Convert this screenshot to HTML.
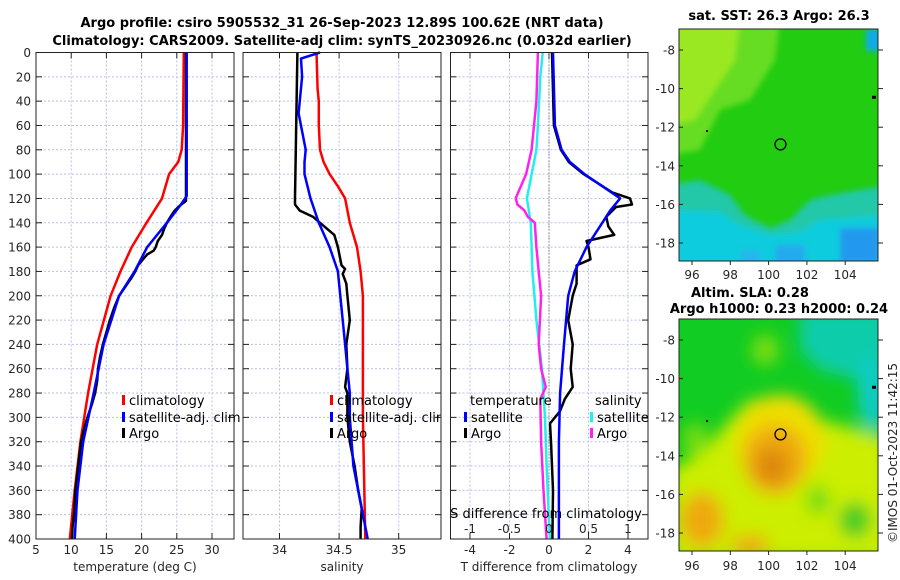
<!DOCTYPE html>
<html><head><meta charset="utf-8"><style>
body{margin:0;background:#fff;}
svg{display:block;font-family:"DejaVu Sans","Liberation Sans",sans-serif;}
.tl{font-size:12px;fill:#262626;}
.ttl{font-size:13px;font-weight:bold;fill:#000;}
.lg{font-size:13px;fill:#000;}
</style></head><body>
<svg id="c" width="900" height="580" viewBox="0 0 900 580">
<defs>
<filter id="bl1" x="-50%" y="-50%" width="200%" height="200%"><feGaussianBlur stdDeviation="8"/></filter>
<filter id="bl2" x="-50%" y="-50%" width="200%" height="200%"><feGaussianBlur stdDeviation="3"/></filter>
<clipPath id="cm1"><rect x="679" y="29" width="199" height="232"/></clipPath>
<clipPath id="cm2"><rect x="679" y="319" width="199" height="232"/></clipPath>
</defs>
<text class="ttl" x="342" y="27" text-anchor="middle">Argo profile: csiro 5905532_31 26-Sep-2023 12.89S 100.62E (NRT data)</text>
<text class="ttl" x="342" y="45" text-anchor="middle">Climatology: CARS2009. Satellite-adj clim: synTS_20230926.nc (0.032d earlier)</text>
<g id="p1"></g>
<g id="p2"></g>
<g id="p3"></g>
<g id="m1">
 <text class="ttl" x="779" y="20" text-anchor="middle">sat. SST: 26.3 Argo: 26.3</text>
 <g clip-path="url(#cm1)">
  <rect x="679" y="29" width="199" height="232" fill="#22cc11"/>
  <g filter="url(#bl2)">
   <polygon points="670,20 780,20 775,60 750,100 720,110 700,150 670,155" fill="#66dd22"/>
   <polygon points="670,20 740,20 735,60 715,90 695,120 670,125" fill="#99e822"/>
   <polygon points="670,185 700,180 730,195 745,215 770,228 790,220 810,200 830,195 860,190 890,185 890,270 670,270" fill="#22c8a8"/>
   <polygon points="670,210 720,212 740,225 770,235 800,232 820,220 850,218 890,215 890,270 670,270" fill="#11ccdd"/>
   <rect x="840" y="228" width="40" height="35" fill="#2299ee"/>
   <rect x="775" y="245" width="30" height="20" fill="#22aaee"/>
   <rect x="740" y="250" width="20" height="15" fill="#22b8ee"/>
   <rect x="866" y="29" width="14" height="22" fill="#11aaee"/>
  </g>
 </g>
 <rect x="679" y="29" width="199" height="232" fill="none" stroke="#222" stroke-width="1"/>
</g>
<g id="m2">
 <text class="ttl" x="691" y="297">Altim. SLA: 0.28</text>
 <text class="ttl" x="779" y="313" text-anchor="middle">Argo h1000: 0.23 h2000: 0.24</text>
 <g clip-path="url(#cm2)">
  <rect x="679" y="319" width="199" height="232" fill="#11cc22"/>
  <g filter="url(#bl1)">
   <polygon points="800,310 890,310 890,430 865,430 860,380 820,370 800,350" fill="#11ccaa"/>
   <ellipse cx="868" cy="390" rx="10" ry="35" fill="#11cccc"/>
   <ellipse cx="765" cy="350" rx="14" ry="16" fill="#77dd11"/>
   <polygon points="670,470 700,455 730,420 750,400 790,395 820,420 860,430 890,440 890,560 670,560" fill="#ccee00"/>
   <ellipse cx="780" cy="440" rx="45" ry="45" fill="#eedd00"/>
   <ellipse cx="775" cy="460" rx="32" ry="35" fill="#eeaa11"/>
   <ellipse cx="772" cy="466" rx="16" ry="18" fill="#dd8811"/>
   <ellipse cx="702" cy="520" rx="22" ry="28" fill="#eeaa11"/>
   <ellipse cx="750" cy="545" rx="20" ry="10" fill="#eeaa11"/>
   <ellipse cx="855" cy="520" rx="16" ry="18" fill="#44cc22"/>
   <ellipse cx="818" cy="500" rx="12" ry="15" fill="#77dd11"/>
   <ellipse cx="695" cy="440" rx="12" ry="18" fill="#77dd11"/>
  </g>
 </g>
 <rect x="679" y="319" width="199" height="232" fill="none" stroke="#222" stroke-width="1"/>
</g>
<text x="0" y="0" font-size="12" fill="#262626" transform="translate(897,543) rotate(-90)">©IMOS 01-Oct-2023 11:42:15</text>
</svg>
<script>
// ---- data ----
const tClimDepth=[0,60,80,90,100,120,140,160,180,200,240,280,320,360,400];
const tClimVal=[26.0,25.9,25.7,25.2,23.9,22.9,20.7,18.6,17.0,15.6,13.7,12.4,11.3,10.5,9.8];
const tSatDepth=[0,118,125,140,160,180,200,240,280,320,360,400];
const tSatVal=[26.4,26.4,25.6,23.6,20.8,19.0,16.8,14.6,13.2,11.7,10.9,10.5];
const tArgoDepth=[0,122,126,130,135,140,145,150,155,160,163,166,170,175,180,185,190,195,200,210,220,230,240,250,260,270,280,290,300,310,320,330,340,350,360,370,380,390,400];
const tArgoVal=[26.3,26.3,25.4,24.7,24.1,23.6,23.2,22.9,22.3,22.0,21.7,20.8,20.2,19.5,19.1,18.6,18.0,17.4,16.8,16.1,15.5,15.0,14.5,14.1,13.8,13.7,13.4,12.9,12.3,11.8,11.4,11.2,11.0,10.8,10.6,10.5,10.4,10.2,10.1];
const sClimDepth=[0,30,40,60,80,90,100,110,120,140,160,180,200,250,300,350,400];
const sClimVal=[34.31,34.32,34.33,34.33,34.34,34.37,34.42,34.49,34.55,34.59,34.65,34.68,34.70,34.70,34.70,34.71,34.72];
const sSatDepth=[0,5,20,50,80,90,100,120,140,160,180,200,220,240,260,280,300,340,370,400];
const sSatVal=[34.34,34.18,34.19,34.16,34.22,34.21,34.21,34.26,34.33,34.42,34.49,34.51,34.53,34.55,34.57,34.59,34.59,34.62,34.68,34.74];
const sArgoDepth=[0,60,120,125,130,135,140,145,150,160,175,178,182,190,200,210,220,240,260,275,280,300,320,340,360,375,390,400];
const sArgoVal=[34.15,34.14,34.13,34.13,34.17,34.28,34.34,34.40,34.46,34.49,34.52,34.55,34.53,34.56,34.57,34.58,34.59,34.56,34.57,34.55,34.57,34.57,34.59,34.63,34.66,34.69,34.68,34.68];
const dTSatDepth=[0,60,80,90,100,120,130,140,160,180,200,240,280,320,400];
const dTSatVal=[0.2,0.3,0.64,1.06,1.8,3.6,3.1,2.7,1.9,1.3,0.97,0.76,0.56,0.5,0.5];
const dTArgoDepth=[0,60,80,90,100,115,120,125,127,135,143,150,155,160,170,175,190,200,220,240,260,275,285,295,305,320,360,400];
const dTArgoVal=[0.15,0.25,0.6,1.0,1.75,3.2,4.1,4.2,3.4,2.9,3.0,3.3,1.9,2.0,2.1,1.4,1.4,1.2,0.97,1.2,1.1,1.2,0.8,0.55,0.05,0.1,0.2,0.17];
const dSSatDepth=[0,20,60,80,120,140,180,220,260,300,340,400];
const dSSatVal=[-0.08,-0.11,-0.14,-0.16,-0.28,-0.23,-0.21,-0.16,-0.09,-0.05,-0.03,0.01];
const dSArgoDepth=[0,40,80,100,115,120,125,130,135,140,160,180,200,240,260,275,285,320,360,400];
const dSArgoVal=[-0.14,-0.16,-0.22,-0.29,-0.39,-0.42,-0.40,-0.31,-0.27,-0.18,-0.16,-0.13,-0.10,-0.13,-0.10,-0.04,-0.11,-0.10,-0.07,-0.03];
const depthTicks=[0,20,40,60,80,100,120,140,160,180,200,220,240,260,280,300,320,340,360,380,400];
const tTicks=[5,10,15,20,25,30];
const sTicks=[34,34.5,35];
const dTTicks=[-4,-2,0,2,4];
const dSTicks=[-1,-0.5,0,0.5,1];
const dSTickLabels=["-1","-0.5","0","0.5","1"];
const latTicks=[-8,-10,-12,-14,-16,-18];
const lonTicks=[96,98,100,102,104];
const argoLon=[100.62], argoLat=[-12.89];

// ---- axes ----
const NS="http://www.w3.org/2000/svg";
const TOP=52.5, BOT=539;
const yD=d=>TOP+(d/400)*(BOT-TOP);
const xT=v=>36+(v-5)*7.04;
const xS=v=>279.5+(v-34)*119.2;
const xDT=v=>549+v*19.75;
const xDS=v=>549+v*79;
const mx=lon=>692+(lon-96)*19.15;
const my1=lat=>50+(-8-lat)*19.3;
const my2=lat=>340+(-8-lat)*19.3;
function el(tag,attrs,parent,txt){const e=document.createElementNS(NS,tag);for(const k in attrs)e.setAttribute(k,attrs[k]);if(txt!==undefined)e.textContent=txt;parent.appendChild(e);return e;}
const panels=[{g:'p1',x0:36,x1:234},{g:'p2',x0:243,x1:441},{g:'p3',x0:450.5,x1:648}];
function frame(p,xticks,xf,labels,ylab){
  const g=document.getElementById(p.g);
  el('rect',{x:p.x0,y:TOP,width:p.x1-p.x0,height:BOT-TOP,fill:'#fff'},g);
  depthTicks.forEach(d=>{const y=yD(d);
    const l=el('line',{x1:p.x0,x2:p.x1,y1:y,y2:y,stroke:'#b8c0e0','stroke-dasharray':'2,2','stroke-width':1},g);
    
    el('line',{x1:p.x0,x2:p.x0+6,y1:y,y2:y,stroke:'#222'},g);
    el('line',{x1:p.x1-6,x2:p.x1,y1:y,y2:y,stroke:'#222'},g);
    if(ylab){const t=el('text',{x:31,y:y+4.5,class:'tl','text-anchor':'end'},g,String(d));
      }
  });
  xticks.forEach((v,i)=>{const x=xf(v);
    const l=el('line',{x1:x,x2:x,y1:TOP,y2:BOT,stroke:'#b8c0e0','stroke-dasharray':'2,2'},g);
    
    el('line',{x1:x,x2:x,y1:BOT,y2:BOT-6,stroke:'#222'},g);
    el('line',{x1:x,x2:x,y1:TOP,y2:TOP+6,stroke:'#222'},g);
    const t=el('text',{x:x,y:554,class:'tl','text-anchor':'middle'},g,labels[i]);
    
  });
  return g;
}
function line(g,depths,vals,xf,color,name,w){
  const pts=depths.map((d,i)=>xf(vals[i]).toFixed(1)+','+yD(d).toFixed(1)).join(' ');
  const p=el('polyline',{points:pts,fill:'none',stroke:color,'stroke-width':w||2.5,'stroke-linejoin':'round'},g);
  
  
}
function legend(g,x,y,color,label,name){
  el('rect',{x:x,y:y-10,width:3,height:10,fill:color},g);
  const t=el('text',{x:x+7,y:y,class:'lg'},g,label);
  
  
}
// panel 1
let g1=frame(panels[0],tTicks,xT,tTicks.map(String),true);
line(g1,tClimDepth,tClimVal,xT,'#ff0000','temp-climatology-line');
line(g1,tArgoDepth,tArgoVal,xT,'#000000','temp-argo-line');
line(g1,tSatDepth,tSatVal,xT,'#0000ff','temp-satellite-line');
el('rect',{x:panels[0].x0,y:TOP,width:198,height:BOT-TOP,fill:'none',stroke:'#222'},g1);
legend(g1,122,405,'#ff0000','climatology','legend-climatology');
legend(g1,122,422,'#0000ff','satellite-adj. clim','legend-satellite');
legend(g1,122,438,'#000000','Argo','legend-argo');
let xl=el('text',{x:135,y:571,class:'tl','font-size':'13','text-anchor':'middle'},g1,'temperature (deg C)');

// panel 2
let g2=frame(panels[1],sTicks,xS,["34","34.5","35"],false);
line(g2,sClimDepth,sClimVal,xS,'#ff0000','sal-climatology-line');
line(g2,sArgoDepth,sArgoVal,xS,'#000000','sal-argo-line');
line(g2,sSatDepth,sSatVal,xS,'#0000ff','sal-satellite-line');
legend(g2,330,405,'#ff0000','climatology','legend-climatology-sal');
legend(g2,330,422,'#0000ff','satellite-adj. clim','legend-satellite-sal');
legend(g2,330,438,'#000000','Argo','legend-argo-sal');
el('rect',{x:441,y:TOP,width:9,height:BOT-TOP,fill:'#fff'},g2);
el('rect',{x:panels[1].x0,y:TOP,width:198,height:BOT-TOP,fill:'none',stroke:'#222'},g2);
xl=el('text',{x:342,y:571,class:'tl','font-size':'13','text-anchor':'middle'},g2,'salinity');

// panel 3
let g3=frame(panels[2],dTTicks,xDT,dTTicks.map(String),false);
el('line',{x1:xDT(0),x2:xDT(0),y1:TOP,y2:BOT,stroke:'#555','stroke-dasharray':'1,2'},g3);
line(g3,dSSatDepth,dSSatVal,xDS,'#22eeee','sdiff-satellite-line');
line(g3,dSArgoDepth,dSArgoVal,xDS,'#ff22ee','sdiff-argo-line');
line(g3,dTArgoDepth,dTArgoVal,xDT,'#000000','tdiff-argo-line');
line(g3,dTSatDepth,dTSatVal,xDT,'#0000ff','tdiff-satellite-line');
el('rect',{x:panels[2].x0,y:TOP,width:197.5,height:BOT-TOP,fill:'none',stroke:'#222'},g3);
let tt=el('text',{x:470,y:405,class:'lg'},g3,'temperature');
tt=el('text',{x:595,y:405,class:'lg'},g3,'salinity');
legend(g3,464,422,'#0000ff','satellite','legend-t-satellite');
legend(g3,464,438,'#000000','Argo','legend-t-argo');
legend(g3,590,422,'#22eeee','satellite','legend-s-satellite');
legend(g3,590,438,'#ff22ee','Argo','legend-s-argo');
tt=el('text',{x:546,y:518,class:'lg','text-anchor':'middle'},g3,'S difference from climatology');
dSTicks.forEach((v,i)=>{const t=el('text',{x:xDS(v),y:533,class:'tl','text-anchor':'middle'},g3,dSTickLabels[i]);
  });
xl=el('text',{x:549,y:571,class:'tl','font-size':'13','text-anchor':'middle'},g3,'T difference from climatology');

// maps
[['m1',my1,29,261,275],['m2',my2,319,551,566]].forEach(([id,myf,y0,y1,ly])=>{
  const g=document.getElementById(id);
  latTicks.forEach(la=>{const y=myf(la);
    el('line',{x1:878,x2:883,y1:y,y2:y,stroke:'#222'},g);
    el('line',{x1:679,x2:683,y1:y,y2:y,stroke:'#222'},g);
    const t=el('text',{x:675,y:y+4.5,class:'tl','text-anchor':'end'},g,String(la));
    });
  lonTicks.forEach(lo=>{const x=mx(lo);
    el('line',{x1:x,x2:x,y1:y1,y2:y1+4,stroke:'#222'},g);
    const t=el('text',{x:x,y:ly+4,class:'tl','text-anchor':'middle'},g,String(lo));
    });
  const c=el('circle',{cx:mx(argoLon[0]),cy:myf(argoLat[0]),r:5.5,fill:'none',stroke:'#000','stroke-width':1.3},g);
  
  el('rect',{x:706,y:myf(-12.2)-1,width:2,height:2,fill:'#000'},g);
  el('rect',{x:872,y:myf(-10.45)-1.5,width:4,height:3,fill:'#000'},g);
});
</script>
</body></html>
